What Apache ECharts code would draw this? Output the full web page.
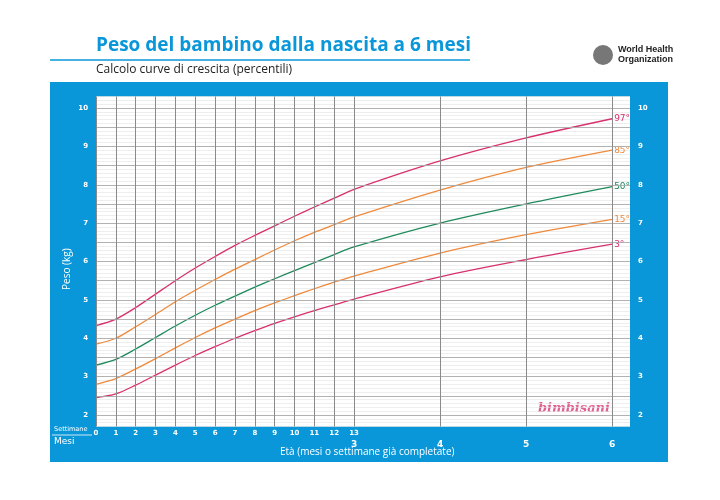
<!DOCTYPE html>
<html><head><meta charset="utf-8">
<script src="https://cdn.jsdelivr.net/npm/echarts@6/dist/echarts.min.js"></script>
<style>html,body{margin:0;background:#fff}#c{width:720px;height:500px}</style>
</head><body><div id="c"></div>
<script>
// x positions in weeks (months 4,5,6 = 17.33, 21.67, 26 weeks)
const xWeeks = [0,1,2,3,4,5,6,7,8,9,10,11,12,13,52/3,65/3,26];
const weekLabels = ['0','1','2','3','4','5','6','7','8','9','10','11','12','13'];
const monthLabels = ['3','4','5','6'];
const p97 = [4.33,4.5,4.8,5.15,5.5,5.83,6.13,6.42,6.68,6.93,7.18,7.42,7.65,7.88,8.62,9.22,9.72];
const p85 = [3.85,4.0,4.3,4.62,4.95,5.25,5.53,5.8,6.05,6.3,6.54,6.76,6.96,7.16,7.86,8.45,8.9];
const p50 = [3.3,3.45,3.72,4.02,4.32,4.6,4.86,5.1,5.33,5.55,5.76,5.97,6.18,6.38,7.0,7.5,7.95];
const p15 = [2.8,2.95,3.2,3.47,3.75,4.02,4.27,4.5,4.72,4.92,5.11,5.29,5.46,5.62,6.22,6.7,7.1];
const p3  = [2.45,2.55,2.78,3.04,3.3,3.55,3.78,4.0,4.2,4.39,4.56,4.72,4.87,5.02,5.6,6.05,6.45];
const names = ['97°','85°','50°','15°','3°'];
const PINK='#d7316e', ORANGE='#ef8a3c', GREEN='#1f8a5c', BLUE='#0a97d9';

const chart = echarts.init(document.getElementById('c'));
const mk = (arr)=>xWeeks.map((x,i)=>[x,arr[i]]);
const vLines = [];
for (let w=0; w<=13; w++) vLines.push({xAxis:w});
[52/3,65/3,26].forEach(v=>vLines.push({xAxis:v}));
const hLines = [];
for (let v=2; v<=10.01; v+=0.5) hLines.push({yAxis:+v.toFixed(1)});
const isInt = v=>Math.abs(v-Math.round(v))<1e-6;
const lineSeries = (name,data,color)=>({
  type:'line', name, data:mk(data), smooth:0.3, showSymbol:false, silent:true,
  lineStyle:{color,width:1.3}, xAxisIndex:0, yAxisIndex:0,
  endLabel:{show:true,formatter:name,color,fontSize:9,fontFamily:'DejaVu Sans',distance:2}
});
chart.setOption({
  animation:false,
  graphic:[
    {type:'rect',shape:{x:50,y:82,width:618,height:380},style:{fill:BLUE},z:-10},
    {type:'rect',shape:{x:96,y:96.5,width:534,height:330},style:{fill:'#fff'},z:-9},
    {type:'line',shape:{x1:50,y1:60,x2:470,y2:60},style:{stroke:BLUE,lineWidth:1.5}},
    {type:'line',shape:{x1:52,y1:435,x2:92,y2:435},style:{stroke:'#fff',lineWidth:0.8}},
    {type:'text',left:96,top:36,style:{text:'Peso del bambino dalla nascita a 6 mesi',font:'bold 19px "Open Sans", sans-serif',fill:BLUE}},
    {type:'text',left:96,top:64,style:{text:'Calcolo curve di crescita (percentili)',font:'12px "Open Sans", sans-serif',fill:'#222'}},
    {type:'circle',shape:{cx:603,cy:55,r:10},style:{fill:'#777'}},
    {type:'text',left:618,top:45,style:{text:'World Health\nOrganization',font:'bold 9px "Liberation Sans", sans-serif',fill:'#222',lineHeight:10}},
    {type:'text',left:54,top:426,style:{text:'Settimane',font:'6.5px "DejaVu Sans"',fill:'#fff'}},
    {type:'text',left:54,top:437,style:{text:'Mesi',font:'9px "DejaVu Sans"',fill:'#fff'}},
    {type:'text',left:280,top:447,style:{text:'Età (mesi o settimane già completate)',font:'10px "Open Sans", sans-serif',fill:'#fff'}},
    {type:'text',x:62,y:290,rotation:Math.PI/2,style:{text:'Peso (kg)',font:'10px "Open Sans", sans-serif',fill:'#fff'}},
    {type:'text',left:538,top:402,style:{text:'bimbisani',font:'bold italic 13px "DejaVu Serif"',fill:'#e0608f'}}
  ],
  grid:{left:96,top:96.5,width:534,height:330},
  xAxis:[
    {type:'value',min:0,max:26.9,interval:1,position:'bottom',
     axisLine:{show:false},axisTick:{show:false},splitLine:{show:false},
     axisLabel:{margin:3,color:'#fff',fontSize:7,fontWeight:'bold',fontFamily:'DejaVu Sans',
       formatter:v=>(isInt(v)&&v<=13)?weekLabels[Math.round(v)]:''}},
    {type:'value',min:0,max:26.9,interval:13/3,position:'bottom',offset:12,
     axisLine:{show:false},axisTick:{show:false},splitLine:{show:false},
     axisLabel:{margin:2,color:'#fff',fontSize:9,fontWeight:'bold',fontFamily:'DejaVu Sans',
       formatter:v=>{const m=Math.round(v*3/13);return (Math.abs(v*3/13-m)<1e-6&&m>=3&&m<=6)?monthLabels[m-3]:'';}}}
  ],
  yAxis:[
    {type:'value',min:1.7,max:10.3,interval:0.1,
     axisLine:{show:false},axisTick:{show:false},
     splitLine:{lineStyle:{color:'#e2e2e2',width:0.6}},
     axisLabel:{margin:8,color:'#fff',fontSize:7,fontWeight:'bold',fontFamily:'DejaVu Sans',
       formatter:v=>(isInt(v)&&v>=2&&v<=10)?String(Math.round(v)):''}},
    {type:'value',min:1.7,max:10.3,interval:0.1,position:'right',
     axisLine:{show:false},axisTick:{show:false},splitLine:{show:false},
     axisLabel:{margin:8,color:'#fff',fontSize:7,fontWeight:'bold',fontFamily:'DejaVu Sans',
       formatter:v=>(isInt(v)&&v>=2&&v<=10)?String(Math.round(v)):''}}
  ],
  series:[
    {type:'line',data:[],silent:true,markLine:{silent:true,symbol:'none',label:{show:false},
      lineStyle:{color:'#aaa',width:0.9,type:'solid'},data:hLines}},
    {type:'line',data:[],silent:true,markLine:{silent:true,symbol:'none',label:{show:false},
      lineStyle:{color:'#8a8a8a',width:1,type:'solid'},data:vLines}},
    lineSeries(names[0],p97,PINK),
    lineSeries(names[1],p85,ORANGE),
    lineSeries(names[2],p50,GREEN),
    lineSeries(names[3],p15,ORANGE),
    lineSeries(names[4],p3,PINK)
  ]
});
</script></body></html>
